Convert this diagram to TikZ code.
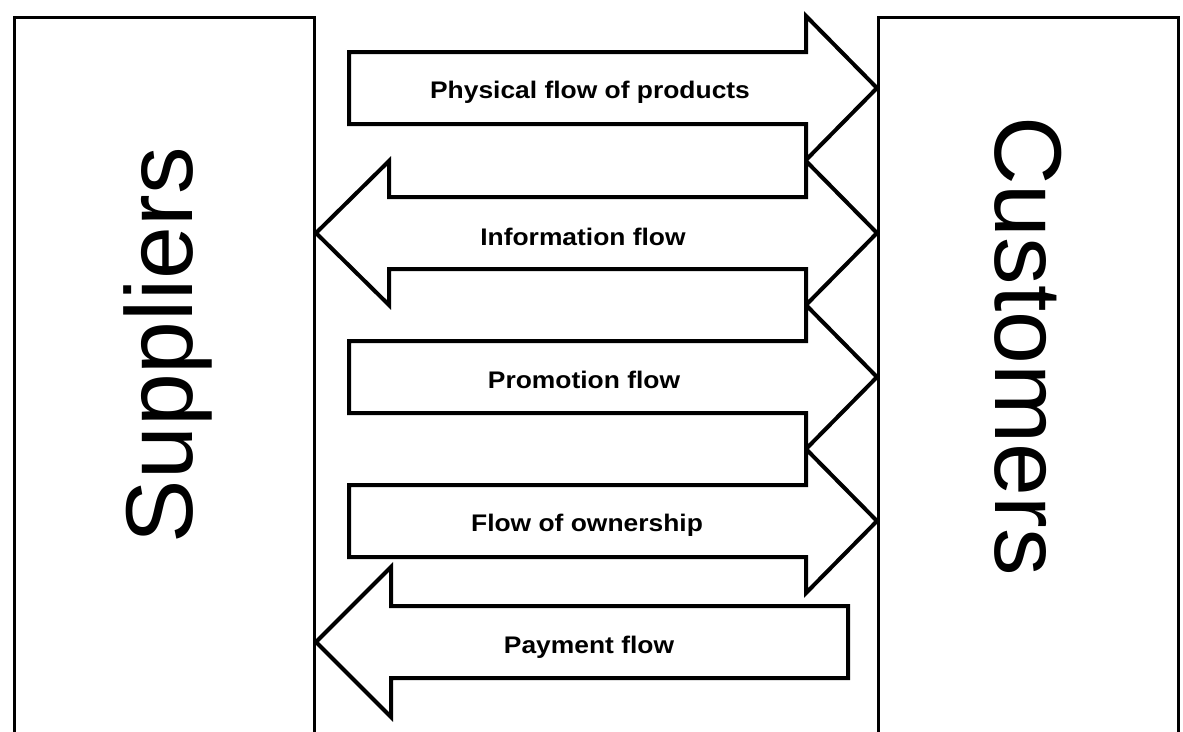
\documentclass[tikz,border=0pt]{standalone}
\usepackage{fontspec}
\setmainfont{Liberation Sans}
\begin{document}
\begin{tikzpicture}[x=1pt,y=-1pt,
  sidebox/.style={draw, line width=3.3pt, inner sep=0pt, minimum width=300pt, minimum height=744pt, anchor=north west},
  flowarrow/.style={draw, line width=4pt, fill=white, line join=miter},
  lbl/.style={font=\fontsize{24}{28}\selectfont\bfseries, xscale=1.1, anchor=base, inner sep=0pt},
  side/.style={font=\fontsize{95}{110}\selectfont, anchor=base, inner sep=0pt}]
\useasboundingbox (0,0) rectangle (1183,731);
\clip (0,0) rectangle (1183,731);
\fill[white] (0,0) rectangle (1183,731);
% side boxes
\node[sidebox] (sup) at (13,16) {};
\node[sidebox] (cus) at (877,16) {};
\node[side, rotate=90] (suplbl) at (192,345) {Suppliers};
\node[side, rotate=-90] (cuslbl) at (995,346) {Customers};
% flow arrows
\draw[flowarrow] (349,52) -- (806,52) -- (806,16) -- (877,88) -- (806,160) -- (806,124) -- (349,124) -- cycle;
\draw[flowarrow] (316,233) -- (389,161) -- (389,197) -- (806,197) -- (806,161) -- (877,233) -- (806,305) -- (806,269) -- (389,269) -- (389,305) -- cycle;
\draw[flowarrow] (349,341) -- (806,341) -- (806,305) -- (877,377) -- (806,449) -- (806,413) -- (349,413) -- cycle;
\draw[flowarrow] (349,485) -- (806,485) -- (806,449) -- (877,521) -- (806,593) -- (806,557) -- (349,557) -- cycle;
\draw[flowarrow] (316,642) -- (391,567) -- (391,606) -- (848,606) -- (848,678) -- (391,678) -- (391,717) -- cycle;
% labels
\node[lbl] (phys) at (590,98) {Physical flow of products};
\node[lbl] (info) at (583,245) {Information flow};
\node[lbl] (promo) at (584,388) {Promotion flow};
\node[lbl] (own) at (587,531) {Flow of ownership};
\node[lbl] (pay) at (589,653) {Payment flow};
\end{tikzpicture}
\end{document}
